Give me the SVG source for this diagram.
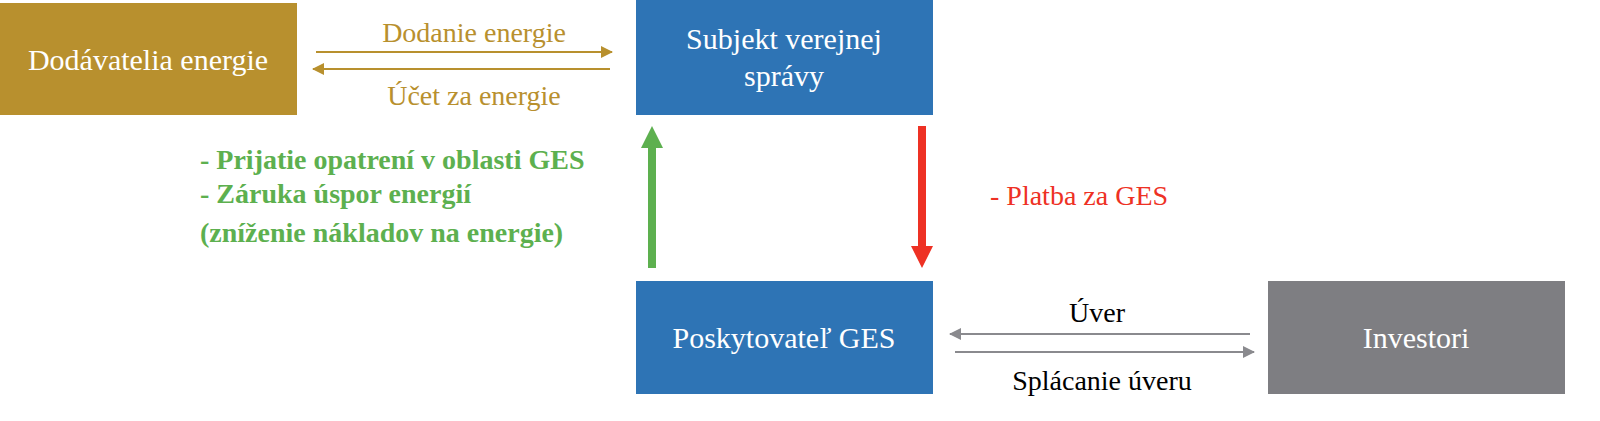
<svg xmlns="http://www.w3.org/2000/svg" width="1600" height="421" viewBox="0 0 1600 421">
<style>
text{font-family:"Liberation Serif",serif;}
.nt{fill:#fff;font-size:30px;text-anchor:middle;}
.gold{fill:#B8902E;font-size:28px;text-anchor:middle;}
.grn{fill:#5DB04F;font-size:28px;font-weight:bold;}
.gr{fill:#000;font-size:28px;text-anchor:middle;}
</style>
<defs>
<marker id="mg" markerWidth="12" markerHeight="12" refX="11" refY="6" orient="auto" markerUnits="userSpaceOnUse" viewBox="0 0 12 12"><path d="M0,0L12,6L0,12Z" fill="#B8902E"/></marker>
<marker id="my" markerWidth="12" markerHeight="12" refX="11" refY="6" orient="auto" markerUnits="userSpaceOnUse" viewBox="0 0 12 12"><path d="M0,0L12,6L0,12Z" fill="#8A8A8E"/></marker>
</defs>
<rect width="1600" height="421" fill="#fff"/>
<g id="dodavatelia"><rect x="0" y="3" width="297" height="112" fill="#B8902E"/><text class="nt" x="148" y="70">Dodávatelia energie</text></g>
<g id="subjekt"><rect x="636" y="0" width="297" height="115" fill="#2E74B5"/><text class="nt" x="784" y="49">Subjekt verejnej</text><text class="nt" x="784" y="86">správy</text></g>
<g id="poskytovatel"><rect x="636" y="281" width="297" height="113" fill="#2E74B5"/><text class="nt" x="784" y="348">Poskytovateľ GES</text></g>
<g id="investori"><rect x="1268" y="281" width="297" height="113" fill="#7E7E82"/><text class="nt" x="1416" y="348">Investori</text></g>
<g id="connectors">
<line x1="316" y1="52" x2="612" y2="52" stroke="#B8902E" stroke-width="2" marker-end="url(#mg)"/>
<line x1="610" y1="69" x2="313" y2="69" stroke="#B8902E" stroke-width="2" marker-end="url(#mg)"/>
<text class="gold" x="474" y="42">Dodanie energie</text>
<text class="gold" x="474" y="105">Účet za energie</text>
<path d="M648,268V148H641L652,126L663,148H656V268Z" fill="#5DB04F"/>
<path d="M918,126V246H911L922,268L933,246H926V126Z" fill="#EE3124"/>
<text class="grn" x="200" y="169">- Prijatie opatrení v oblasti GES</text>
<text class="grn" x="200" y="203">- Záruka úspor energií</text>
<text class="grn" x="200" y="242">(zníženie nákladov na energie)</text>
<text x="990" y="205" fill="#EE3124" font-size="28" font-family="Liberation Serif,serif">- Platba za GES</text>
<line x1="1250" y1="334" x2="950" y2="334" stroke="#8A8A8E" stroke-width="2" marker-end="url(#my)"/>
<line x1="955" y1="352" x2="1254" y2="352" stroke="#8A8A8E" stroke-width="2" marker-end="url(#my)"/>
<text class="gr" x="1097" y="322">Úver</text>
<text class="gr" x="1102" y="390">Splácanie úveru</text>
</g>
</svg>
